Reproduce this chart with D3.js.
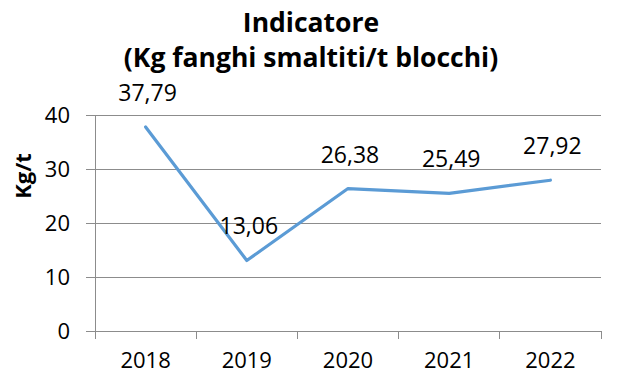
<!DOCTYPE html>
<html>
<head>
<meta charset="utf-8">
<script src="https://cdn.jsdelivr.net/npm/d3@7"></script>
<style>
  html, body { margin: 0; padding: 0; background: #fff; }
  svg { display: block; font-family: "Open Sans", sans-serif; }
</style>
</head>
<body>
<svg id="chart" width="627" height="373"></svg>
<script>
// Sludge disposal indicator by year
const years = ["2018", "2019", "2020", "2021", "2022"];
const values = [37.79, 13.06, 26.38, 25.49, 27.92];
const yTicks = [0, 10, 20, 30, 40];
const titleLines = ["Indicatore", "(Kg fanghi smaltiti/t blocchi)"];
const yLabel = "Kg/t";

const svg = d3.select("#chart");
const margin = { left: 95, right: 26, top: 115, bottom: 42 };
const W = 627, H = 373;
const FONT = "'Open Sans', sans-serif";

const x = d3.scaleBand().domain(years).range([margin.left, W - margin.right]).padding(0);
const y = d3.scaleLinear().domain([0, 40]).range([H - margin.bottom, margin.top]);

const axisColor = "#8c8c8c";
const fmt = v => v.toFixed(2).replace(".", ",");

// Horizontal gridlines
svg.append("g")
  .selectAll("line")
  .data(yTicks)
  .join("line")
  .attr("x1", margin.left)
  .attr("x2", W - margin.right)
  .attr("y1", d => y(d))
  .attr("y2", d => y(d))
  .attr("stroke", axisColor)
  .attr("stroke-width", 1)
  .attr("shape-rendering", "crispEdges");

// Y axis
const yAxis = svg.append("g")
  .attr("transform", `translate(${margin.left},0)`)
  .call(d3.axisLeft(y).tickValues(yTicks).tickSize(9).tickPadding(16).tickFormat(d3.format("d")));
yAxis.select(".domain").attr("stroke", axisColor).attr("shape-rendering", "crispEdges");
yAxis.selectAll(".tick line").attr("stroke", axisColor).attr("shape-rendering", "crispEdges");
yAxis.selectAll("text").attr("font-size", 22).attr("fill", "#000")
  .attr("font-family", FONT).attr("dy", "0.36em");

// X axis with boundary ticks between categories
const xAxisG = svg.append("g").attr("transform", `translate(0,${y(0)})`);
xAxisG.append("line")
  .attr("x1", margin.left).attr("x2", W - margin.right)
  .attr("y1", 0).attr("y2", 0)
  .attr("stroke", axisColor).attr("shape-rendering", "crispEdges");
const boundaries = years.map(d => x(d)).concat([x(years[years.length - 1]) + x.bandwidth()]);
xAxisG.selectAll("line.tk")
  .data(boundaries)
  .join("line")
  .attr("class", "tk")
  .attr("x1", d => d).attr("x2", d => d)
  .attr("y1", 0).attr("y2", 8)
  .attr("stroke", axisColor).attr("shape-rendering", "crispEdges");
xAxisG.selectAll("text")
  .data(years)
  .join("text")
  .attr("x", d => x(d) + x.bandwidth() / 2)
  .attr("y", 37)
  .attr("text-anchor", "middle")
  .attr("font-size", 22)
  .attr("fill", "#000")
  .text(d => d);

// Line series
const pts = years.map((d, i) => ({ year: d, value: values[i] }));
const line = d3.line()
  .x(d => x(d.year) + x.bandwidth() / 2)
  .y(d => y(d.value));
svg.append("path")
  .datum(pts)
  .attr("d", line)
  .attr("fill", "none")
  .attr("stroke", "#5b9bd5")
  .attr("stroke-width", 3.2)
  .attr("stroke-linejoin", "round")
  .attr("stroke-linecap", "round");

// Data labels
svg.append("g")
  .selectAll("text")
  .data(pts)
  .join("text")
  .attr("x", d => x(d.year) + x.bandwidth() / 2 + 2)
  .attr("y", d => y(d.value) - 26)
  .attr("text-anchor", "middle")
  .attr("font-size", 23)
  .attr("fill", "#000")
  .text(d => fmt(d.value));

// Title
svg.append("g")
  .selectAll("text")
  .data(titleLines)
  .join("text")
  .attr("x", 311)
  .attr("y", (d, i) => 32 + i * 35)
  .attr("text-anchor", "middle")
  .attr("font-size", 26.5)
  .attr("font-weight", "bold")
  .attr("fill", "#000")
  .text(d => d);

// Y axis title
svg.append("text")
  .attr("transform", `translate(31,176) rotate(-90)`)
  .attr("text-anchor", "middle")
  .attr("font-size", 22)
  .attr("font-weight", "bold")
  .attr("fill", "#000")
  .text(yLabel);
</script>
</body>
</html>
